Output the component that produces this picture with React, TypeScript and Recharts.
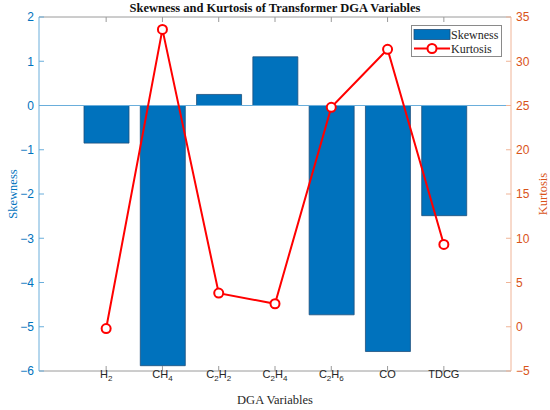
import React from 'react';
import {
  ComposedChart,
  Bar,
  Line,
  XAxis,
  YAxis,
  ReferenceLine,
  Legend,
  Label,
} from 'recharts';

// values
const categories = ['H2', 'CH4', 'C2H2', 'C2H4', 'C2H6', 'CO', 'TDCG'];
const skewness = [-0.85, -5.88, 0.25, 1.1, -4.73, -5.56, -2.49];
const kurtosis = [-0.2, 33.6, 3.8, 2.6, 24.8, 31.35, 9.3];
const skewTicks = [-6, -5, -4, -3, -2, -1, 0, 1, 2];
const kurtTicks = [-5, 0, 5, 10, 15, 20, 25, 30, 35];

const data = categories.map((name, i) => ({
  name,
  skewness: skewness[i],
  kurtosis: kurtosis[i],
}));

const BLUE = '#0072BD';
const BLUE_LINE = '#6aaedb';
const ORANGE = '#D95319';
const ORANGE_LINE = '#f0b497';
const BOX = '#9a9a9a';
const SERIF = '"Liberation Serif", "DejaVu Serif", serif';
const SANS = '"Liberation Sans", Arial, sans-serif';
const TICK_LEN = 5;
const X_MARGIN = 7;
const Y_MARGIN = 5;
const MARGIN_TOP = 17;

// split "C2H6" into normal text and subscript digits
function renderChem(label: string) {
  const parts = label.match(/\d+|\D+/g) || [];
  return parts.map((p, i) =>
    /\d/.test(p) ? (
      <tspan key={i} fontSize={8} dy={3}>
        {p}
      </tspan>
    ) : (
      <tspan key={i} dy={i > 0 ? -3 : 0}>
        {p}
      </tspan>
    )
  );
}

function BottomTick(props: any) {
  const { x, y, payload } = props;
  const axisY = y - X_MARGIN;
  return (
    <g>
      <line x1={x} x2={x} y1={axisY} y2={axisY - TICK_LEN} stroke={BOX} />
      {/* matching inward tick on the top edge of the box */}
      <line x1={x} x2={x} y1={MARGIN_TOP} y2={MARGIN_TOP + TICK_LEN} stroke={BOX} />
      <text x={x} y={y} dy="0.71em" textAnchor="middle" fontFamily={SANS} fontSize={11} fill="#262626">
        {renderChem(String(payload.value))}
      </text>
    </g>
  );
}

function LeftTick(props: any) {
  const { x, y, payload } = props;
  const axisX = x + Y_MARGIN;
  return (
    <g>
      <line x1={axisX} x2={axisX + TICK_LEN} y1={y} y2={y} stroke={BLUE_LINE} />
      <text x={x} y={y} dy="0.36em" textAnchor="end" fontFamily={SANS} fontSize={12} fill={BLUE}>
        {String(payload.value).replace('-', '\u2212')}
      </text>
    </g>
  );
}

function RightTick(props: any) {
  const { x, y, payload } = props;
  const axisX = x - Y_MARGIN;
  return (
    <g>
      <line x1={axisX} x2={axisX - TICK_LEN} y1={y} y2={y} stroke={ORANGE_LINE} />
      <text x={x} y={y} dy="0.36em" textAnchor="start" fontFamily={SANS} fontSize={12} fill={ORANGE}>
        {String(payload.value).replace('-', '\u2212')}
      </text>
    </g>
  );
}

function LegendBox(props: any) {
  const items = [...(props.payload || [])].sort(
    (a: any, b: any) => (a.type === 'line' ? 1 : 0) - (b.type === 'line' ? 1 : 0)
  );
  return (
    <div style={{ border: '1px solid #8a8a8a', background: '#fff', width: 89, height: 30 }}>
      <svg width={89} height={30} style={{ display: 'block' }}>
        {items.map((item: any, i: number) => {
          const cy = 8.5 + i * 14;
          return (
            <g key={item.value}>
              {item.type === 'line' ? (
                <g>
                  <line x1={2} x2={38} y1={cy} y2={cy} stroke={item.color} strokeWidth={2} />
                  <circle cx={20} cy={cy} r={4.5} fill="#fff" stroke={item.color} strokeWidth={2} />
                </g>
              ) : (
                <rect x={2} y={cy - 5} width={36} height={10} fill={BLUE} stroke="#1d4f7c" strokeWidth={0.8} />
              )}
              <text x={39} y={cy + 4} fontFamily={SERIF} fontSize={12} fill="#262626">
                {item.value}
              </text>
            </g>
          );
        })}
      </svg>
    </div>
  );
}

export default function App() {
  return (
    <div style={{ position: 'absolute', left: 0, top: 0, width: 550, height: 410, background: '#fff' }}>
      <div
        style={{
          position: 'absolute',
          left: 0,
          width: 550,
          top: 1,
          textAlign: 'center',
          fontFamily: SERIF,
          fontWeight: 'bold',
          fontSize: 12.5,
          color: '#111',
        }}
      >
        Skewness and Kurtosis of Transformer DGA Variables
      </div>
      <ComposedChart
        width={550}
        height={410}
        data={data}
        margin={{ top: MARGIN_TOP, right: 0, bottom: 0, left: 0 }}
        style={{ position: 'absolute', left: 0, top: 0 }}
      >
        <XAxis
          dataKey="name"
          height={39}
          padding={{ left: 39, right: 39 }}
          axisLine={{ stroke: BOX }}
          tickLine={false}
          tickSize={0}
          tickMargin={X_MARGIN}
          tick={<BottomTick />}
          interval={0}
        >
          <Label value="DGA Variables" position="insideBottom" offset={6} fontFamily={SERIF} fontSize={12.5} fill="#262626" />
        </XAxis>
        <YAxis
          yAxisId="left"
          width={39}
          domain={[-6, 2]}
          ticks={skewTicks}
          allowDataOverflow
          axisLine={{ stroke: BLUE_LINE }}
          tickLine={false}
          tickSize={0}
          tickMargin={Y_MARGIN}
          tick={<LeftTick />}
          interval={0}
        >
          <Label value="Skewness" angle={-90} position="insideLeft" offset={13} fontFamily={SERIF} fontSize={12.5} fill={BLUE} style={{ textAnchor: 'middle' }} />
        </YAxis>
        <YAxis
          yAxisId="right"
          orientation="right"
          width={39}
          domain={[-5, 35]}
          ticks={kurtTicks}
          allowDataOverflow
          axisLine={{ stroke: ORANGE_LINE }}
          tickLine={false}
          tickSize={0}
          tickMargin={Y_MARGIN}
          tick={<RightTick />}
          interval={0}
        >
          <Label value="Kurtosis" angle={-90} position="insideRight" offset={7} fontFamily={SERIF} fontSize={12.5} fill={ORANGE} style={{ textAnchor: 'middle' }} />
        </YAxis>
        <ReferenceLine yAxisId="left" y={2} stroke={BOX} />
        <ReferenceLine yAxisId="left" y={0} stroke={BLUE_LINE} />
        <Bar
          yAxisId="left"
          dataKey="skewness"
          name="Skewness"
          barSize={45}
          fill={BLUE}
          stroke="#1d4f7c"
          strokeWidth={0.8}
          isAnimationActive={false}
        />
        <Line
          yAxisId="right"
          dataKey="kurtosis"
          name="Kurtosis"
          type="linear"
          stroke="#ff0000"
          strokeWidth={2}
          dot={{ r: 4.5, fill: '#fff', stroke: '#ff0000', strokeWidth: 2 }}
          activeDot={false}
          legendType="line"
          isAnimationActive={false}
        />
        <Legend
          layout="horizontal"
          verticalAlign="middle"
          align="center"
          wrapperStyle={{ left: 411, top: 25, width: 91 }}
          content={<LegendBox />}
        />
      </ComposedChart>
    </div>
  );
}
